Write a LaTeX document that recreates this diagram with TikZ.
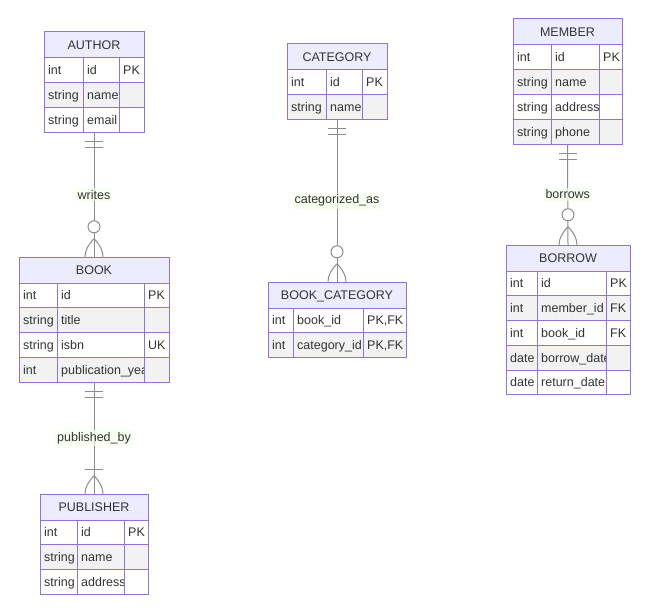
\documentclass[tikz,border=0pt]{standalone}
\usepackage{fontspec}
\setmainfont{Liberation Sans}
\usetikzlibrary{fit}
\definecolor{erpurple}{HTML}{9370DB}
\definecolor{erhead}{HTML}{ECECFF}
\definecolor{erline}{HTML}{8C8C8C}
\definecolor{errow}{HTML}{F2F2F2}
\definecolor{ertext}{HTML}{333333}
\definecolor{erlab}{HTML}{F4FFEB}
\newcommand\erfont{\fontsize{12.5}{15}\selectfont}
\tikzset{
  ent/.style={draw=erpurple, line width=1pt},
  hdr/.style={ent, fill=erhead},
  cellodd/.style={ent, fill=white},
  celleven/.style={ent, fill=errow},
  etext/.style={anchor=west, inner sep=0pt, text height=9pt, text depth=0pt, text=ertext, font=\erfont},
  htext/.style={anchor=center, inner sep=0pt, text height=9pt, text depth=0pt, text=ertext, font=\erfont},
  rel/.style={draw=erline, line width=1pt},
  relmark/.style={draw=erline, line width=1pt},
  rlabel/.style={fill=erlab, fill opacity=0.7, text opacity=1, text=ertext, font=\erfont, inner sep=2pt},
}
% #1 name #2 title #3 x1 #4 x2 #5 x3 #6 x4 #7 ytop #8 nrows #9 rows
\newcommand\erent[9]{%
  \draw[hdr] (#3,#7) rectangle (#6,{#7+26});
  \node[htext] (#1-title) at ({(#3+#6)/2},{#7+13}) {#2};
  \foreach [count=\i] \ta/\tb/\tc in {#9} {
    \pgfmathsetmacro\ya{#7+26+(\i-1)*24.75}
    \pgfmathsetmacro\yb{\ya+24.75}
    \pgfmathsetmacro\ym{\ya+12.375}
    \ifodd\i\relax\def\cst{cellodd}\else\def\cst{celleven}\fi
    \draw[\cst] (#3,\ya) rectangle (#4,\yb);
    \node[etext] (#1-\i-a) at ({#3+4},\ym) {\ta};
    \draw[\cst] (#4,\ya) rectangle (#5,\yb);
    \node[etext] (#1-\i-b) at ({#4+4},\ym) {\tb};
    \draw[\cst] (#5,\ya) rectangle (#6,\yb);
    \node[etext] (#1-\i-c) at ({#5+4},\ym) {\tc};
  }
  \coordinate (#1-nw) at (#3,#7);
  \coordinate (#1-se) at (#6,{#7+26+#8*24.75});
  \draw[ent] (#1-nw) rectangle (#1-se);
  \node[fit=(#1-nw)(#1-se), inner sep=0pt] (#1) {};
}
% one-only marker below an entity (start)
\newcommand\oneonly[1]{%
  \begin{scope}[shift={(#1.south)}]
    \draw[relmark] (-9,9) -- (9,9) (-9,15) -- (9,15);
  \end{scope}}
% zero-or-more marker above an entity (end)
\newcommand\zeromany[1]{%
  \begin{scope}[shift={(#1.north)}]
    \draw[relmark, fill=white] (0,-30) circle[radius=6];
    \draw[relmark] (0,-18) .. controls (6,-12) and (9,-6) .. (9,0);
    \draw[relmark] (0,-18) .. controls (-6,-12) and (-9,-6) .. (-9,0);
  \end{scope}}
% one-or-more marker above an entity (end)
\newcommand\onemany[1]{%
  \begin{scope}[shift={(#1.north)}]
    \draw[relmark] (-9,-24) -- (9,-24);
    \draw[relmark] (0,-18) .. controls (6,-12) and (9,-6) .. (9,0);
    \draw[relmark] (0,-18) .. controls (-6,-12) and (-9,-6) .. (-9,0);
  \end{scope}}
\begin{document}
\begin{tikzpicture}[x=1pt, y=-1pt]
\useasboundingbox (0,0) rectangle (650,615);
\fill[white] (0,0) rectangle (650,615);

\erent{author}{AUTHOR}{44}{83}{119}{144}{32}{3}{int/id/PK, string/name/{}, string/email/{}}
\erent{book}{BOOK}{19}{57}{144}{169}{257}{4}{int/id/PK, string/title/{}, string/isbn/UK, int/publication\_year/{}}
\erent{publisher}{PUBLISHER}{40}{77}{124}{148}{494}{3}{int/id/PK, string/name/{}, string/address/{}}
\erent{category}{CATEGORY}{287}{326}{362}{387}{44}{2}{int/id/PK, string/name/{}}
\erent{bookcat}{BOOK\_CATEGORY}{268}{293}{363}{406}{282}{2}{int/book\_id/{PK,FK}, int/category\_id/{PK,FK}}
\erent{member}{MEMBER}{513}{551}{599}{622}{19}{4}{int/id/PK, string/name/{}, string/address/{}, string/phone/{}}
\erent{borrow}{BORROW}{506}{537}{606}{630}{245}{5}{int/id/PK, int/member\_id/FK, int/book\_id/FK, date/borrow\_date/{}, date/return\_date/{}}

\draw[rel] (author.south) -- (book.north) node[midway, rlabel] (l1) {writes};
\draw[rel] (book.south) -- (publisher.north) node[midway, rlabel] (l2) {published\_by};
\draw[rel] (category.south) -- (bookcat.north) node[midway, rlabel] (l3) {categorized\_as};
\draw[rel] (member.south) -- (borrow.north) node[midway, rlabel] (l4) {borrows};

\oneonly{author}
\oneonly{book}
\oneonly{category}
\oneonly{member}
\zeromany{book}
\onemany{publisher}
\zeromany{bookcat}
\zeromany{borrow}
\end{tikzpicture}
\end{document}
